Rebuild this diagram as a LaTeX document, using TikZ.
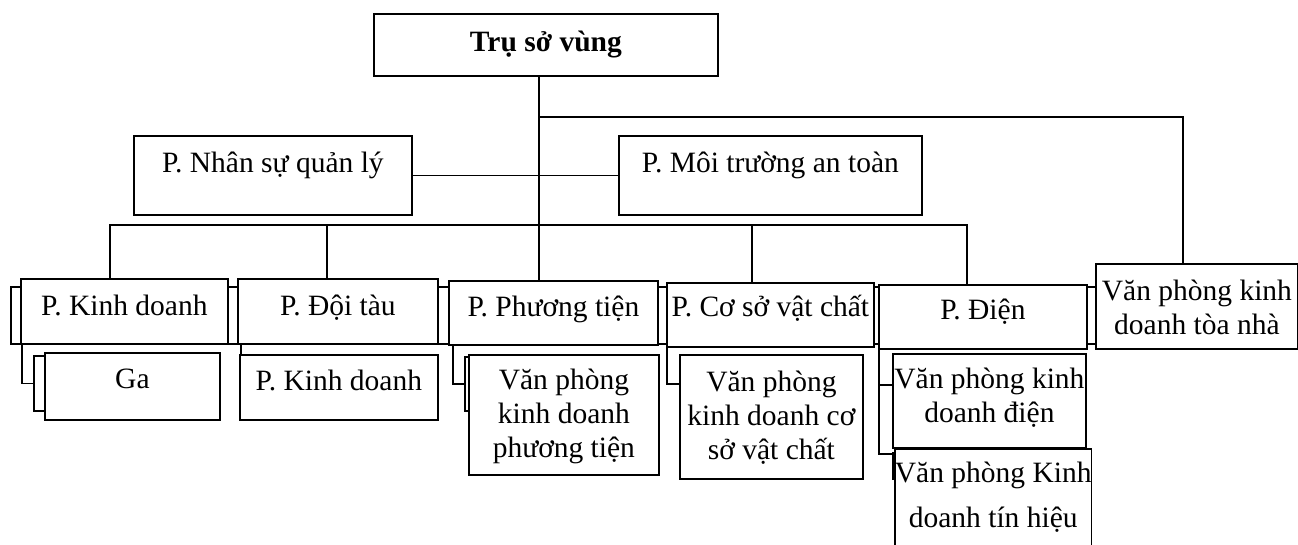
\documentclass[tikz,border=0pt]{standalone}
\usepackage{fontspec}
\setmainfont{Liberation Serif}
% centred lines of text whose baseline is the first line's baseline
\newcommand{\rows}[2][34pt]{\vtop{\baselineskip=#1\relax\lineskiplimit=-100pt\halign{\hfil##\hfil\cr#2\crcr}}}
\begin{document}
\begin{tikzpicture}[x=1pt,y=-1pt,
  box/.style={draw, line width=1.8pt, fill=white, inner sep=0pt, anchor=north west,
              font=\fontsize{29.5pt}{34pt}\selectfont},
  card/.style={draw, line width=1.6pt, fill=white, inner sep=0pt, anchor=north west},
  link/.style={line width=1.6pt}]
\useasboundingbox (0,0) rectangle (1298,544);

% cards lying behind the boxes
\node[card, minimum width=1140pt, minimum height=57pt] (rowB) at (10,286) {};
\node[card, minimum width=170pt, minimum height=55pt] (gaB) at (33,355) {};
\node[card, minimum width=140pt, minimum height=54pt] (ptB) at (464,356) {};
\node[card, minimum width=100pt, minimum height=26pt] (dkB) at (892,452) {};

% head office and staff departments
\node[box, font=\fontsize{29.5pt}{34pt}\selectfont\bfseries, minimum width=344pt,
      text height=38pt, text depth=24pt] (top) at (373,13) {Trụ sở vùng};
\node[box, minimum width=278pt, text height=37pt, text depth=42pt] (nhansu) at (133,135) {P. Nhân sự quản lý};
\node[box, minimum width=303pt, text height=37pt, text depth=42pt] (moitruong) at (618,135) {P. Môi trường an toàn};

% departments
\node[box, minimum width=207pt, text height=37pt, text depth=28pt] (kd) at (20,278) {P. Kinh doanh};
\node[box, minimum width=200pt, text height=37pt, text depth=28pt] (dt) at (237,278) {P. Đội tàu};
\node[box, minimum width=209pt, text height=36pt, text depth=28pt] (pt) at (448,280) {P. Phương tiện};
\node[box, minimum width=207pt, text height=34pt, text depth=30pt] (cs) at (666,282) {P. Cơ sở vật chất};
\node[box, minimum width=208pt, text height=35pt, text depth=29pt] (dien) at (878,284) {P. Điện};
\node[box, minimum width=202pt, text height=37pt, text depth=48pt] (toanha) at (1095,263) {\rows{Văn phòng kinh\cr doanh tòa nhà}};

% offices
\node[box, minimum width=175pt, text height=36pt, text depth=31pt] (ga) at (44,352) {Ga};
\node[box, minimum width=198pt, text height=36pt, text depth=29pt] (dtk) at (239,354) {P. Kinh doanh};
\node[box, minimum width=190pt, text height=35pt, text depth=85pt] (ptk) at (468,354) {\rows{Văn phòng\cr kinh doanh\cr phương tiện}};
\node[box, minimum width=183pt, text height=37pt, text depth=87pt] (csk) at (679,354) {\rows{Văn phòng\cr kinh doanh cơ\cr sở vật chất}};
\node[box, minimum width=193pt, text height=35pt, text depth=59pt] (dk1) at (892,353) {\rows{Văn phòng kinh\cr doanh điện}};
\node[box, minimum width=194pt, text height=34pt, text depth=78pt] (dk2) at (894,448) {\rows[45pt]{Văn phòng Kinh\cr doanh tín hiệu}};

% connector guides
\coordinate (trunk) at (539,0);
\coordinate (hq) at (0,117);
\coordinate (tnx) at (1183,0);
\coordinate (bus) at (0,225);
\coordinate (x1) at (110,0);
\coordinate (x2) at (327,0);
\coordinate (x3) at (752,0);
\coordinate (x4) at (967,0);
\coordinate (g1) at (22,0);
\coordinate (g2) at (241,0);
\coordinate (g3) at (453,0);
\coordinate (g4) at (667,0);
\coordinate (r4) at (0,384);
\coordinate (g5) at (879,0);
\coordinate (r5) at (0,385);
\coordinate (r6) at (0,454);

% upper tree
\draw[link] (top.south -| trunk) -- (pt.north -| trunk);
\draw[link] (hq -| trunk) -| (toanha.north -| tnx);
\draw[link] (nhansu.east) -- (moitruong.west);
\draw[link] (kd.north -| x1) |- (bus -| x4) -- (dien.north -| x4);
\draw[link] (bus -| x2) -- (dt.north -| x2);
\draw[link] (bus -| x3) -- (cs.north -| x3);

% lower tree
\draw[link] (kd.south -| g1) |- (gaB.west);
\draw[link] (dt.south -| g2) -- (dtk.north -| g2);
\draw[link] (pt.south -| g3) |- (ptB.west);
\draw[link] (cs.south -| g4) |- (csk.west |- r4);
\draw[link] (dien.south -| g5) |- (dk1.west |- r5);
\draw[link] (dien.south -| g5) |- (dk2.west |- r6);
\end{tikzpicture}
\end{document}
